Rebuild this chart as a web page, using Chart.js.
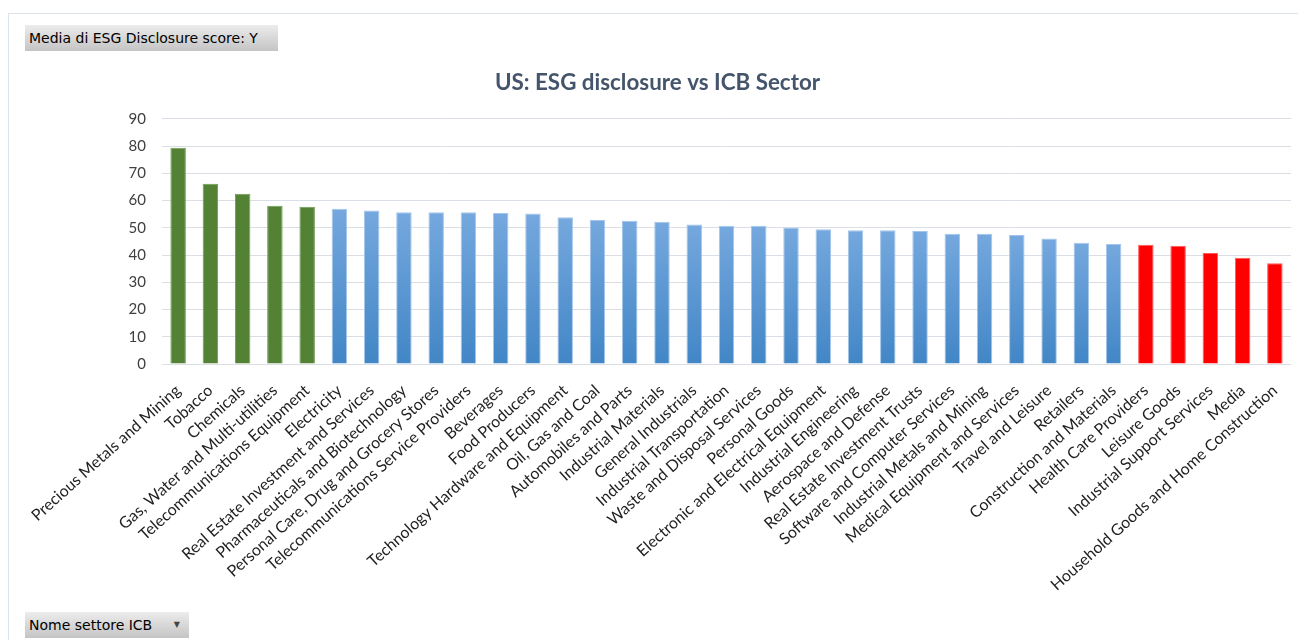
<!DOCTYPE html>
<html>
<head>
<meta charset="utf-8">
<script src="https://cdn.jsdelivr.net/npm/chart.js@4"></script>
<style>
    html, body {
        margin: 0;
        padding: 0;
        width: 1298px;
        height: 640px;
        overflow: hidden;
        background: #ffffff;
    }
    #frame {
        position: absolute;
        left: 8px;
        top: 13px;
        width: 1300px;
        height: 640px;
        border-left: 1px solid #dde3ea;
        border-top: 1px solid #dde3ea;
    }
    #chartBox {
        position: absolute;
        left: 0;
        top: 0;
        width: 1298px;
        height: 640px;
    }
    .pivot-btn {
        position: absolute;
        left: 25px;
        height: 26px;
        line-height: 26px;
        padding-left: 4px;
        box-sizing: border-box;
        font-family: "DejaVu Sans", sans-serif;
        font-size: 14px;
        color: #000;
        background: linear-gradient(#ececec, #c4c4c4);
        white-space: nowrap;
    }
    #valueBtn {
        top: 25px;
        width: 253px;
    }
    #fieldBtn {
        top: 612px;
        width: 164px;
    }
    #fieldBtn .arrow {
        position: absolute;
        right: 9px;
        top: 0;
        font-size: 8px;
        color: #444;
    }
</style>
</head>
<body>
<div id="frame"></div>
<div id="chartBox"><canvas id="esgChart"></canvas></div>
<div class="pivot-btn" id="valueBtn">Media di ESG Disclosure score: Y</div>
<div class="pivot-btn" id="fieldBtn">Nome settore ICB<span class="arrow">&#9660;</span></div>

<script>
const sectors = [
    "Precious Metals and Mining",
    "Tobacco",
    "Chemicals",
    "Gas, Water and Multi-utilities",
    "Telecommunications Equipment",
    "Electricity",
    "Real Estate Investment and Services",
    "Pharmaceuticals and Biotechnology",
    "Personal Care, Drug and Grocery Stores",
    "Telecommunications Service Providers",
    "Beverages",
    "Food Producers",
    "Technology Hardware and Equipment",
    "Oil, Gas and Coal",
    "Automobiles and Parts",
    "Industrial Materials",
    "General Industrials",
    "Industrial Transportation",
    "Waste and Disposal Services",
    "Personal Goods",
    "Electronic and Electrical Equipment",
    "Industrial Engineering",
    "Aerospace and Defense",
    "Real Estate Investment Trusts",
    "Software and Computer Services",
    "Industrial Metals and Mining",
    "Medical Equipment and Services",
    "Travel and Leisure",
    "Retailers",
    "Construction and Materials",
    "Health Care Providers",
    "Leisure Goods",
    "Industrial Support Services",
    "Media",
    "Household Goods and Home Construction",
];

// average ESG disclosure score per sector
const scores = [
    79.4, 66.2, 62.5, 58.1, 57.7,
    57.0, 56.4, 55.7, 55.7, 55.7,
    55.4, 55.3, 53.9, 52.9, 52.6,
    52.2, 51.2, 50.8, 50.8, 50.1,
    49.5, 49.1, 49.1, 48.8, 47.8,
    47.8, 47.4, 46.1, 44.5, 44.1,
    43.8, 43.4, 40.8, 39.0, 37.0,
];

const yTicks = [0, 10, 20, 30, 40, 50, 60, 70, 80, 90];

// how many sectors are highlighted at each end of the ranking
const topCount = 5;
const bottomCount = 5;

const labelFont = "Lato, 'Open Sans', sans-serif";

const barFill = (context) => {
    const i = context.dataIndex;
    if (i < topCount) return "#548235";
    if (i >= scores.length - bottomCount) return "#ff0000";

    const chart = context.chart;
    if (!chart.chartArea) return "#5b9bd5";
    const yScale = chart.scales.y;
    const top = yScale.getPixelForValue(scores[i]);
    const bottom = yScale.getPixelForValue(0);
    const grad = chart.ctx.createLinearGradient(0, top, 0, bottom);
    grad.addColorStop(0, "#75a8de");
    grad.addColorStop(1, "#4286c6");
    return grad;
};

const barEdge = (context) => {
    const i = context.dataIndex;
    if (i < topCount) return "#6e9a52";
    if (i >= scores.length - bottomCount) return "#ff5a5a";
    return "#a3c6ea";
};

new Chart(document.getElementById("esgChart"), {
    type: "bar",
    data: {
        labels: sectors,
        datasets: [
            {
                label: "Media di ESG Disclosure score: Y",
                data: scores,
                backgroundColor: barFill,
                borderColor: barEdge,
                borderWidth: 1,
                categoryPercentage: 1,
                barPercentage: 0.48,
            },
        ],
    },
    options: {
        responsive: true,
        maintainAspectRatio: false,
        animation: false,
        layout: {
            padding: { left: 24, right: 7, top: 0, bottom: 0 },
        },
        plugins: {
            legend: { display: false },
            tooltip: { enabled: false },
            title: {
                display: true,
                text: "US: ESG disclosure vs ICB Sector",
                color: "#44546a",
                font: { family: labelFont, size: 22.4, weight: "bold" },
                padding: { top: 69, bottom: 23 },
            },
        },
        scales: {
            x: {
                grid: { display: false },
                border: { display: false },
                ticks: {
                    autoSkip: false,
                    maxRotation: 42,
                    minRotation: 42,
                    color: "#1f1f1f",
                    padding: 9,
                    font: { family: labelFont, size: 16 },
                },
                afterFit: (axis) => {
                    axis.height = 640 - 364;
                },
            },
            y: {
                min: 0,
                max: 90,
                afterBuildTicks: (axis) => {
                    axis.ticks = yTicks.map((value) => ({ value }));
                },
                grid: {
                    color: "#dadfe6",
                    drawTicks: false,
                },
                border: { display: false },
                ticks: {
                    color: "#404040",
                    padding: 16,
                    font: { family: labelFont, size: 15 },
                },
                afterFit: (axis) => {
                    axis.width = 138;
                },
            },
        },
    },
});
</script>
</body>
</html>
